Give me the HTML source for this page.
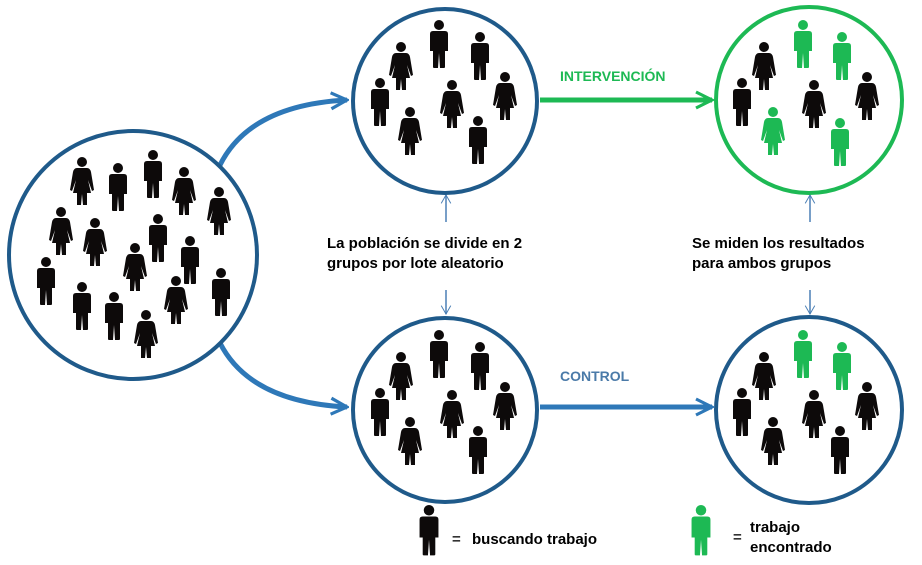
<!DOCTYPE html>
<html><head><meta charset="utf-8"><style>
html,body{margin:0;padding:0;background:#fff;}
svg{display:block;}
text{font-family:"Liberation Sans",Arial,sans-serif;font-weight:bold;}
</style></head><body>
<svg width="922" height="565" viewBox="0 0 922 565" xmlns="http://www.w3.org/2000/svg">
<defs>
<g id="m">
<circle cx="0" cy="5" r="5"/>
<path d="M-9,14 Q-9,11 -6,11 L6,11 Q9,11 9,14 L9,31 L6,31 L6,47 Q6,48 5,48 L1,48 L0,33 L-1,48 L-5,48 Q-6,48 -6,47 L-6,31 L-9,31 Z"/>
</g>
<g id="w">
<circle cx="0" cy="5" r="5"/>
<path d="M-5,11 L5,11 Q8,11 9,15 L12,33 L10,34 L6,23 L9,36 L5,36 L5,48 L1,48 L0,37 L-1,48 L-5,48 L-5,36 L-9,36 L-6,23 L-10,34 L-12,33 L-9,15 Q-8,11 -5,11 Z"/>
</g>
<marker id="ab" viewBox="0 0 10 10" refX="9" refY="5" markerWidth="4" markerHeight="4" orient="auto"><path d="M1,1 L9,5 L1,9" fill="none" stroke="#2e78b8" stroke-width="1.6"/></marker>
<marker id="ag" viewBox="0 0 10 10" refX="9" refY="5" markerWidth="4" markerHeight="4" orient="auto"><path d="M1,1 L9,5 L1,9" fill="none" stroke="#1db954" stroke-width="1.6"/></marker>
<marker id="at" viewBox="0 0 10 10" refX="9" refY="5" markerWidth="8" markerHeight="8" orient="auto"><path d="M2,1 L9,5 L2,9" fill="none" stroke="#4a7fb5" stroke-width="0.8"/></marker>
</defs>

<!-- connectors -->
<path d="M220,165 Q250,105 347,100" fill="none" stroke="#2e78b8" stroke-width="5" marker-end="url(#ab)"/>
<path d="M220,343 Q250,402 347,407" fill="none" stroke="#2e78b8" stroke-width="5" marker-end="url(#ab)"/>
<path d="M540,100 L712,100" fill="none" stroke="#1db954" stroke-width="5" marker-end="url(#ag)"/>
<path d="M540,407 L712,407" fill="none" stroke="#2e78b8" stroke-width="5" marker-end="url(#ab)"/>
<g stroke="#4a7fb5" stroke-width="1.5" fill="none">
<path d="M446,222 L446,195" marker-end="url(#at)"/>
<path d="M446,290 L446,314" marker-end="url(#at)"/>
<path d="M810,222 L810,195" marker-end="url(#at)"/>
<path d="M810,290 L810,314" marker-end="url(#at)"/>
</g>

<!-- circles -->
<circle cx="133" cy="255" r="124" fill="#fff" stroke="#1f5a8a" stroke-width="4"/>
<circle cx="445" cy="101" r="92" fill="#fff" stroke="#1f5a8a" stroke-width="4"/>
<circle cx="445" cy="410" r="92" fill="#fff" stroke="#1f5a8a" stroke-width="4"/>
<circle cx="809" cy="100" r="93" fill="#fff" stroke="#1db954" stroke-width="4"/>
<circle cx="809" cy="410" r="93" fill="#fff" stroke="#1f5a8a" stroke-width="4"/>

<!-- left figures -->
<g fill="#0d0a0a">
<use href="#w" x="82" y="157"/><use href="#m" x="118" y="163"/><use href="#m" x="153" y="150"/>
<use href="#w" x="184" y="167"/><use href="#w" x="219" y="187"/><use href="#w" x="61" y="207"/>
<use href="#w" x="95" y="218"/><use href="#m" x="158" y="214"/><use href="#w" x="135" y="243"/>
<use href="#m" x="190" y="236"/><use href="#m" x="46" y="257"/><use href="#m" x="82" y="282"/>
<use href="#m" x="114" y="292"/><use href="#w" x="176" y="276"/><use href="#m" x="221" y="268"/>
<use href="#w" x="146" y="310"/>
</g>
<!-- middle figures -->
<g fill="#0d0a0a">
<use href="#m" x="439" y="20"/><use href="#w" x="401" y="42"/><use href="#m" x="480" y="32"/>
<use href="#m" x="380" y="78"/><use href="#w" x="452" y="80"/><use href="#w" x="505" y="72"/>
<use href="#w" x="410" y="107"/><use href="#m" x="478" y="116"/>
<use href="#m" x="439" y="330"/><use href="#w" x="401" y="352"/><use href="#m" x="480" y="342"/>
<use href="#m" x="380" y="388"/><use href="#w" x="452" y="390"/><use href="#w" x="505" y="382"/>
<use href="#w" x="410" y="417"/><use href="#m" x="478" y="426"/>
</g>
<!-- right figures -->
<g fill="#0d0a0a">
<use href="#w" x="764" y="42"/><use href="#m" x="742" y="78"/><use href="#w" x="814" y="80"/><use href="#w" x="867" y="72"/>
<use href="#w" x="764" y="352"/><use href="#m" x="742" y="388"/><use href="#w" x="814" y="390"/><use href="#w" x="867" y="382"/>
<use href="#w" x="773" y="417"/><use href="#m" x="840" y="426"/>
</g>
<g fill="#1db954">
<use href="#m" x="803" y="20"/><use href="#m" x="842" y="32"/><use href="#w" x="773" y="107"/><use href="#m" x="840" y="118"/>
<use href="#m" x="803" y="330"/><use href="#m" x="842" y="342"/>
</g>

<!-- labels -->
<text x="560" y="81" font-size="14" fill="#1db954">INTERVENCIÓN</text>
<text x="560" y="381" font-size="14" fill="#4a7aa8">CONTROL</text>
<text x="327" y="248" font-size="15" fill="#000">La población se divide en 2</text>
<text x="327" y="268" font-size="15" fill="#000">grupos por lote aleatorio</text>
<text x="692" y="248" font-size="15" fill="#000">Se miden los resultados</text>
<text x="692" y="268" font-size="15" fill="#000">para ambos grupos</text>

<!-- legend -->
<g transform="translate(429,505)" fill="#0d0a0a"><use href="#m" transform="scale(1.05)"/></g>
<g transform="translate(701,505)" fill="#1db954"><use href="#m" transform="scale(1.05)"/></g>
<text x="452" y="544" font-size="15" fill="#333">=</text>
<text x="472" y="544" font-size="15" fill="#000">buscando trabajo</text>
<text x="733" y="542" font-size="15" fill="#333">=</text>
<text x="750" y="532" font-size="15" fill="#000">trabajo</text>
<text x="750" y="552" font-size="15" fill="#000">encontrado</text>
</svg>
</body></html>
